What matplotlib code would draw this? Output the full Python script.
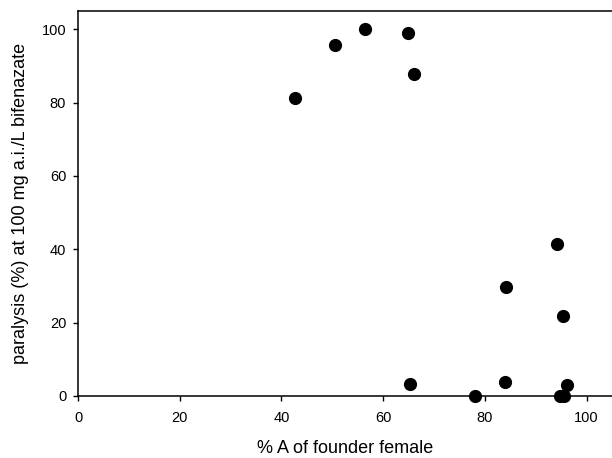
import matplotlib
matplotlib.use("Agg")
import matplotlib.pyplot as plt

plt.rcParams['font.family'] = ['Liberation Sans', 'DejaVu Sans']

# % A of founder female vs paralysis at 100 mg a.i./L bifenazate
pct_a = [42.6, 50.5, 56.4, 64.8, 66.1, 94.2, 84.2, 95.4, 83.9, 96.1, 78.1, 94.8, 95.5, 65.2]
paralysis = [81.4, 95.8, 100.0, 98.9, 87.7, 41.5, 29.7, 21.8, 3.7, 3.1, 0.0, 0.0, 0.0, 3.2]

xticks = [0, 20, 40, 60, 80, 100]
yticks = [0, 20, 40, 60, 80, 100]

fig = plt.figure(figsize=(6.12, 4.58), dpi=100)
ax = fig.add_axes([0.1275, 0.1354, 0.8725, 0.8406])

ax.scatter(pct_a, paralysis, s=72, color='black', zorder=3, clip_on=False)

ax.set_xlim(0, 105)
ax.set_ylim(0, 105)
ax.set_xticks(xticks)
ax.set_yticks(yticks)
ax.tick_params(direction='out', length=3.5, width=1, labelsize=10.5)
ax.tick_params(axis='x', pad=7)
ax.tick_params(axis='y', pad=5)
ax.spines['right'].set_visible(False)
for s in ['left', 'bottom', 'top']:
    ax.spines[s].set_linewidth(1.1)

ax.set_xlabel('% A of founder female', fontsize=13, labelpad=11)
ax.set_ylabel('paralysis (%) at 100 mg a.i./L bifenazate', fontsize=13, labelpad=9)

fig.savefig('out.png', dpi=100)
